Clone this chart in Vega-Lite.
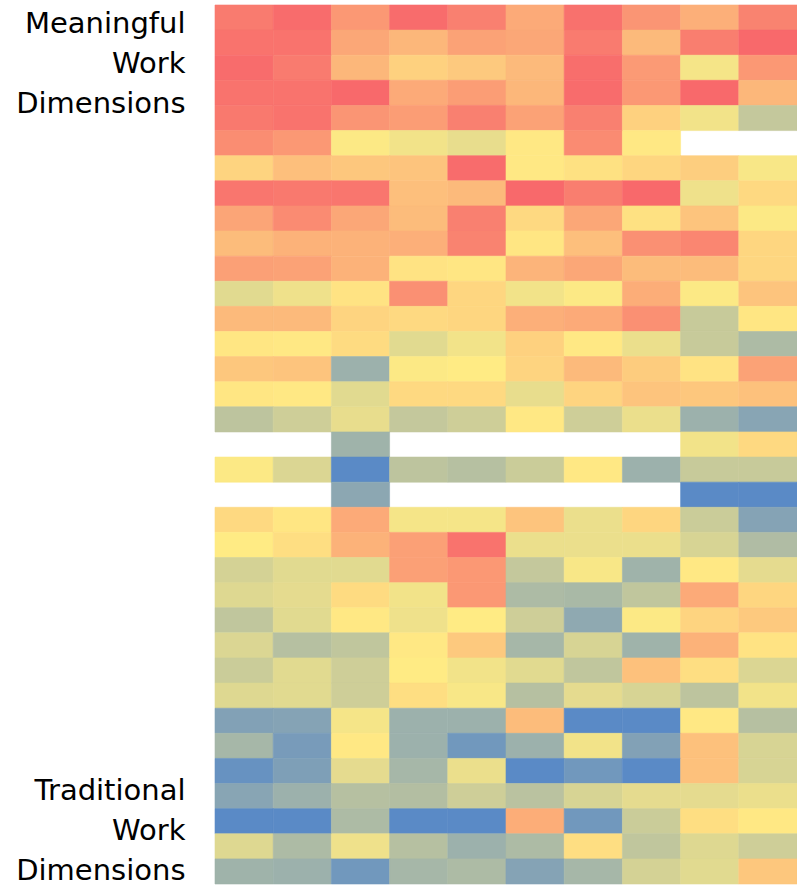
{
  "$schema": "https://vega.github.io/schema/vega-lite/v6.json",
  "width": 582,
  "height": 879,
  "autosize": "none",
  "padding": {"left": 215, "top": 5, "right": 0, "bottom": 1},
  "background": "white",
  "config": {"view": {"stroke": null}},
  "data": {"values": [
    {"r":1,"c":1,"v":0.93},{"r":1,"c":2,"v":0.99},{"r":1,"c":3,"v":0.82},{"r":1,"c":4,"v":0.99},{"r":1,"c":5,"v":0.91},{"r":1,"c":6,"v":0.75},{"r":1,"c":7,"v":0.97},{"r":1,"c":8,"v":0.83},{"r":1,"c":9,"v":0.73},{"r":1,"c":10,"v":0.90},
    {"r":2,"c":1,"v":0.96},{"r":2,"c":2,"v":0.96},{"r":2,"c":3,"v":0.76},{"r":2,"c":4,"v":0.70},{"r":2,"c":5,"v":0.78},{"r":2,"c":6,"v":0.76},{"r":2,"c":7,"v":0.93},{"r":2,"c":8,"v":0.69},{"r":2,"c":9,"v":0.92},{"r":2,"c":10,"v":1.0},
    {"r":3,"c":1,"v":0.99},{"r":3,"c":2,"v":0.93},{"r":3,"c":3,"v":0.70},{"r":3,"c":4,"v":0.60},{"r":3,"c":5,"v":0.63},{"r":3,"c":6,"v":0.69},{"r":3,"c":7,"v":0.98},{"r":3,"c":8,"v":0.81},{"r":3,"c":9,"v":0.47},{"r":3,"c":10,"v":0.82},
    {"r":4,"c":1,"v":0.96},{"r":4,"c":2,"v":0.96},{"r":4,"c":3,"v":1.0},{"r":4,"c":4,"v":0.75},{"r":4,"c":5,"v":0.80},{"r":4,"c":6,"v":0.70},{"r":4,"c":7,"v":0.99},{"r":4,"c":8,"v":0.82},{"r":4,"c":9,"v":1.0},{"r":4,"c":10,"v":0.70},
    {"r":5,"c":1,"v":0.94},{"r":5,"c":2,"v":0.96},{"r":5,"c":3,"v":0.83},{"r":5,"c":4,"v":0.80},{"r":5,"c":5,"v":0.91},{"r":5,"c":6,"v":0.78},{"r":5,"c":7,"v":0.91},{"r":5,"c":8,"v":0.60},{"r":5,"c":9,"v":0.46},{"r":5,"c":10,"v":0.32},
    {"r":6,"c":1,"v":0.86},{"r":6,"c":2,"v":0.82},{"r":6,"c":3,"v":0.49},{"r":6,"c":4,"v":0.46},{"r":6,"c":5,"v":0.43},{"r":6,"c":6,"v":0.51},{"r":6,"c":7,"v":0.87},{"r":6,"c":8,"v":0.51},
    {"r":7,"c":1,"v":0.59},{"r":7,"c":2,"v":0.67},{"r":7,"c":3,"v":0.64},{"r":7,"c":4,"v":0.65},{"r":7,"c":5,"v":0.99},{"r":7,"c":6,"v":0.51},{"r":7,"c":7,"v":0.54},{"r":7,"c":8,"v":0.58},{"r":7,"c":9,"v":0.61},{"r":7,"c":10,"v":0.48},
    {"r":8,"c":1,"v":0.95},{"r":8,"c":2,"v":0.94},{"r":8,"c":3,"v":0.95},{"r":8,"c":4,"v":0.67},{"r":8,"c":5,"v":0.69},{"r":8,"c":6,"v":1.0},{"r":8,"c":7,"v":0.92},{"r":8,"c":8,"v":1.0},{"r":8,"c":9,"v":0.45},{"r":8,"c":10,"v":0.57},
    {"r":9,"c":1,"v":0.77},{"r":9,"c":2,"v":0.87},{"r":9,"c":3,"v":0.76},{"r":9,"c":4,"v":0.68},{"r":9,"c":5,"v":0.91},{"r":9,"c":6,"v":0.57},{"r":9,"c":7,"v":0.76},{"r":9,"c":8,"v":0.54},{"r":9,"c":9,"v":0.65},{"r":9,"c":10,"v":0.49},
    {"r":10,"c":1,"v":0.68},{"r":10,"c":2,"v":0.72},{"r":10,"c":3,"v":0.72},{"r":10,"c":4,"v":0.73},{"r":10,"c":5,"v":0.90},{"r":10,"c":6,"v":0.52},{"r":10,"c":7,"v":0.67},{"r":10,"c":8,"v":0.85},{"r":10,"c":9,"v":0.89},{"r":10,"c":10,"v":0.58},
    {"r":11,"c":1,"v":0.79},{"r":11,"c":2,"v":0.78},{"r":11,"c":3,"v":0.72},{"r":11,"c":4,"v":0.53},{"r":11,"c":5,"v":0.52},{"r":11,"c":6,"v":0.71},{"r":11,"c":7,"v":0.76},{"r":11,"c":8,"v":0.68},{"r":11,"c":9,"v":0.68},{"r":11,"c":10,"v":0.58},
    {"r":12,"c":1,"v":0.41},{"r":12,"c":2,"v":0.45},{"r":12,"c":3,"v":0.53},{"r":12,"c":4,"v":0.85},{"r":12,"c":5,"v":0.58},{"r":12,"c":6,"v":0.46},{"r":12,"c":7,"v":0.49},{"r":12,"c":8,"v":0.74},{"r":12,"c":9,"v":0.49},{"r":12,"c":10,"v":0.65},
    {"r":13,"c":1,"v":0.69},{"r":13,"c":2,"v":0.69},{"r":13,"c":3,"v":0.59},{"r":13,"c":4,"v":0.57},{"r":13,"c":5,"v":0.58},{"r":13,"c":6,"v":0.73},{"r":13,"c":7,"v":0.75},{"r":13,"c":8,"v":0.85},{"r":13,"c":9,"v":0.33},{"r":13,"c":10,"v":0.52},
    {"r":14,"c":1,"v":0.52},{"r":14,"c":2,"v":0.51},{"r":14,"c":3,"v":0.56},{"r":14,"c":4,"v":0.41},{"r":14,"c":5,"v":0.46},{"r":14,"c":6,"v":0.60},{"r":14,"c":7,"v":0.51},{"r":14,"c":8,"v":0.44},{"r":14,"c":9,"v":0.33},{"r":14,"c":10,"v":0.25},
    {"r":15,"c":1,"v":0.64},{"r":15,"c":2,"v":0.65},{"r":15,"c":3,"v":0.20},{"r":15,"c":4,"v":0.49},{"r":15,"c":5,"v":0.50},{"r":15,"c":6,"v":0.59},{"r":15,"c":7,"v":0.69},{"r":15,"c":8,"v":0.62},{"r":15,"c":9,"v":0.53},{"r":15,"c":10,"v":0.78},
    {"r":16,"c":1,"v":0.52},{"r":16,"c":2,"v":0.51},{"r":16,"c":3,"v":0.41},{"r":16,"c":4,"v":0.57},{"r":16,"c":5,"v":0.57},{"r":16,"c":6,"v":0.43},{"r":16,"c":7,"v":0.59},{"r":16,"c":8,"v":0.65},{"r":16,"c":9,"v":0.64},{"r":16,"c":10,"v":0.66},
    {"r":17,"c":1,"v":0.30},{"r":17,"c":2,"v":0.35},{"r":17,"c":3,"v":0.43},{"r":17,"c":4,"v":0.32},{"r":17,"c":5,"v":0.35},{"r":17,"c":6,"v":0.51},{"r":17,"c":7,"v":0.35},{"r":17,"c":8,"v":0.44},{"r":17,"c":9,"v":0.20},{"r":17,"c":10,"v":0.14},
    {"r":18,"c":3,"v":0.21},{"r":18,"c":9,"v":0.46},{"r":18,"c":10,"v":0.57},
    {"r":19,"c":1,"v":0.49},{"r":19,"c":2,"v":0.39},{"r":19,"c":3,"v":0.0},{"r":19,"c":4,"v":0.30},{"r":19,"c":5,"v":0.28},{"r":19,"c":6,"v":0.34},{"r":19,"c":7,"v":0.51},{"r":19,"c":8,"v":0.20},{"r":19,"c":9,"v":0.33},{"r":19,"c":10,"v":0.33},
    {"r":20,"c":3,"v":0.15},{"r":20,"c":9,"v":0.0},{"r":20,"c":10,"v":0.0},
    {"r":21,"c":1,"v":0.57},{"r":21,"c":2,"v":0.52},{"r":21,"c":3,"v":0.75},{"r":21,"c":4,"v":0.47},{"r":21,"c":5,"v":0.47},{"r":21,"c":6,"v":0.65},{"r":21,"c":7,"v":0.44},{"r":21,"c":8,"v":0.58},{"r":21,"c":9,"v":0.34},{"r":21,"c":10,"v":0.13},
    {"r":22,"c":1,"v":0.50},{"r":22,"c":2,"v":0.55},{"r":22,"c":3,"v":0.72},{"r":22,"c":4,"v":0.79},{"r":22,"c":5,"v":0.96},{"r":22,"c":6,"v":0.44},{"r":22,"c":7,"v":0.44},{"r":22,"c":8,"v":0.44},{"r":22,"c":9,"v":0.38},{"r":22,"c":10,"v":0.26},
    {"r":23,"c":1,"v":0.37},{"r":23,"c":2,"v":0.41},{"r":23,"c":3,"v":0.41},{"r":23,"c":4,"v":0.79},{"r":23,"c":5,"v":0.82},{"r":23,"c":6,"v":0.32},{"r":23,"c":7,"v":0.48},{"r":23,"c":8,"v":0.21},{"r":23,"c":9,"v":0.51},{"r":23,"c":10,"v":0.42},
    {"r":24,"c":1,"v":0.40},{"r":24,"c":2,"v":0.42},{"r":24,"c":3,"v":0.56},{"r":24,"c":4,"v":0.46},{"r":24,"c":5,"v":0.82},{"r":24,"c":6,"v":0.25},{"r":24,"c":7,"v":0.24},{"r":24,"c":8,"v":0.31},{"r":24,"c":9,"v":0.75},{"r":24,"c":10,"v":0.58},
    {"r":25,"c":1,"v":0.31},{"r":25,"c":2,"v":0.41},{"r":25,"c":3,"v":0.51},{"r":25,"c":4,"v":0.45},{"r":25,"c":5,"v":0.50},{"r":25,"c":6,"v":0.35},{"r":25,"c":7,"v":0.16},{"r":25,"c":8,"v":0.49},{"r":25,"c":9,"v":0.59},{"r":25,"c":10,"v":0.63},
    {"r":26,"c":1,"v":0.39},{"r":26,"c":2,"v":0.28},{"r":26,"c":3,"v":0.31},{"r":26,"c":4,"v":0.51},{"r":26,"c":5,"v":0.63},{"r":26,"c":6,"v":0.23},{"r":26,"c":7,"v":0.38},{"r":26,"c":8,"v":0.21},{"r":26,"c":9,"v":0.72},{"r":26,"c":10,"v":0.53},
    {"r":27,"c":1,"v":0.34},{"r":27,"c":2,"v":0.41},{"r":27,"c":3,"v":0.35},{"r":27,"c":4,"v":0.50},{"r":27,"c":5,"v":0.46},{"r":27,"c":6,"v":0.41},{"r":27,"c":7,"v":0.31},{"r":27,"c":8,"v":0.66},{"r":27,"c":9,"v":0.55},{"r":27,"c":10,"v":0.39},
    {"r":28,"c":1,"v":0.40},{"r":28,"c":2,"v":0.41},{"r":28,"c":3,"v":0.35},{"r":28,"c":4,"v":0.55},{"r":28,"c":5,"v":0.48},{"r":28,"c":6,"v":0.28},{"r":28,"c":7,"v":0.42},{"r":28,"c":8,"v":0.38},{"r":28,"c":9,"v":0.30},{"r":28,"c":10,"v":0.46},
    {"r":29,"c":1,"v":0.12},{"r":29,"c":2,"v":0.13},{"r":29,"c":3,"v":0.47},{"r":29,"c":4,"v":0.20},{"r":29,"c":5,"v":0.20},{"r":29,"c":6,"v":0.68},{"r":29,"c":7,"v":0.0},{"r":29,"c":8,"v":0.0},{"r":29,"c":9,"v":0.51},{"r":29,"c":10,"v":0.28},
    {"r":30,"c":1,"v":0.23},{"r":30,"c":2,"v":0.09},{"r":30,"c":3,"v":0.51},{"r":30,"c":4,"v":0.20},{"r":30,"c":5,"v":0.07},{"r":30,"c":6,"v":0.20},{"r":30,"c":7,"v":0.46},{"r":30,"c":8,"v":0.12},{"r":30,"c":9,"v":0.66},{"r":30,"c":10,"v":0.38},
    {"r":31,"c":1,"v":0.04},{"r":31,"c":2,"v":0.11},{"r":31,"c":3,"v":0.42},{"r":31,"c":4,"v":0.23},{"r":31,"c":5,"v":0.44},{"r":31,"c":6,"v":0.0},{"r":31,"c":7,"v":0.07},{"r":31,"c":8,"v":0.0},{"r":31,"c":9,"v":0.66},{"r":31,"c":10,"v":0.38},
    {"r":32,"c":1,"v":0.14},{"r":32,"c":2,"v":0.20},{"r":32,"c":3,"v":0.28},{"r":32,"c":4,"v":0.27},{"r":32,"c":5,"v":0.35},{"r":32,"c":6,"v":0.29},{"r":32,"c":7,"v":0.38},{"r":32,"c":8,"v":0.42},{"r":32,"c":9,"v":0.42},{"r":32,"c":10,"v":0.44},
    {"r":33,"c":1,"v":0.0},{"r":33,"c":2,"v":0.0},{"r":33,"c":3,"v":0.25},{"r":33,"c":4,"v":0.0},{"r":33,"c":5,"v":0.0},{"r":33,"c":6,"v":0.74},{"r":33,"c":7,"v":0.07},{"r":33,"c":8,"v":0.34},{"r":33,"c":9,"v":0.55},{"r":33,"c":10,"v":0.51},
    {"r":34,"c":1,"v":0.40},{"r":34,"c":2,"v":0.25},{"r":34,"c":3,"v":0.45},{"r":34,"c":4,"v":0.28},{"r":34,"c":5,"v":0.20},{"r":34,"c":6,"v":0.25},{"r":34,"c":7,"v":0.55},{"r":34,"c":8,"v":0.31},{"r":34,"c":9,"v":0.40},{"r":34,"c":10,"v":0.35},
    {"r":35,"c":1,"v":0.21},{"r":35,"c":2,"v":0.20},{"r":35,"c":3,"v":0.07},{"r":35,"c":4,"v":0.23},{"r":35,"c":5,"v":0.25},{"r":35,"c":6,"v":0.13},{"r":35,"c":7,"v":0.23},{"r":35,"c":8,"v":0.37},{"r":35,"c":9,"v":0.41},{"r":35,"c":10,"v":0.64}
  ]},
  "mark": {"type": "rect", "strokeWidth": 0.6},
  "encoding": {
    "x": {"field": "c", "type": "ordinal", "axis": null, "scale": {"paddingInner": 0, "paddingOuter": 0}},
    "y": {
      "field": "r", "type": "ordinal",
      "scale": {"paddingInner": 0, "paddingOuter": 0},
      "axis": {
        "title": null,
        "domain": false,
        "ticks": false,
        "tickSize": 0,
        "labelPadding": 30,
        "labelFont": "DejaVu Sans",
        "labelFontSize": 29,
        "labelColor": "#000000",
        "labelLineHeight": 40,
        "labelAlign": "right",
        "labelBaseline": "middle",
        "labelOverlap": false,
        "labelBound": false,
        "labelFlush": false,
        "labelLimit": 0,
        "labelOffset": {"condition": {"test": "datum.value == 1", "value": 6}, "value": -5},
        "labelExpr": "datum.value == 1 ? ['Meaningful', 'Work', 'Dimensions'] : (datum.value == 32 ? ['Traditional', 'Work', 'Dimensions'] : '')"
      }
    },
    "color": {
      "field": "v", "type": "quantitative", "legend": null,
      "scale": {"type": "linear", "domain": [0, 0.5, 1], "range": ["#5A8AC6", "#FFEB84", "#F8696B"], "interpolate": "rgb"}
    },
    "stroke": {
      "field": "v", "type": "quantitative", "legend": null,
      "scale": {"type": "linear", "domain": [0, 0.5, 1], "range": ["#5A8AC6", "#FFEB84", "#F8696B"], "interpolate": "rgb"}
    }
  }
}
